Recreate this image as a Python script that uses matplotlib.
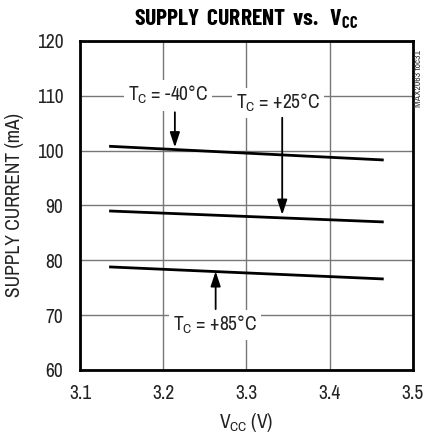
import matplotlib
matplotlib.use("Agg")
import matplotlib.pyplot as plt

VCC = [3.135, 3.465]
CURRENT_M40 = [100.8, 98.3]
CURRENT_P25 = [89.0, 87.0]
CURRENT_P85 = [78.8, 76.6]
X_TICKS = [3.1, 3.2, 3.3, 3.4, 3.5]
Y_TICKS = [60, 70, 80, 90, 100, 110, 120]

FONT = ["Archivo Narrow", "DejaVu Sans"]
plt.rcParams["font.family"] = FONT
plt.rcParams["mathtext.fontset"] = "custom"
plt.rcParams["mathtext.rm"] = "Archivo Narrow"
plt.rcParams["mathtext.bf"] = "Barlow Condensed:bold"

FS = 14

fig = plt.figure(figsize=(4.24, 4.36), dpi=100)
ax = fig.add_axes([0.1887, 0.1514, 0.785, 0.7546])

for ys in (CURRENT_M40, CURRENT_P25, CURRENT_P85):
    ax.plot(VCC, ys, color="black", linewidth=2.0, solid_capstyle="butt", zorder=3)

ax.set_xlim(3.1, 3.5)
ax.set_ylim(60, 120)
ax.set_xticks(X_TICKS)
ax.set_yticks(Y_TICKS)
ax.set_xticklabels([f"{v:.1f}" for v in X_TICKS])
ax.tick_params(length=0, labelsize=FS, pad=10, colors="#222222")
ax.tick_params(axis="y", pad=12)
ax.grid(color="#777777", linewidth=1.0, zorder=0)
for sp in ax.spines.values():
    sp.set_linewidth(2.0)

ax.set_xlabel("V$_\\mathrm{CC}$ (V)", fontsize=FS, labelpad=6, color="#222222")
ax.set_ylabel("SUPPLY CURRENT (mA)", fontsize=FS, labelpad=9, color="#222222")

box = dict(facecolor="white", edgecolor="none", pad=3)
arrow = dict(arrowstyle="-|>,head_length=0.9,head_width=0.3", color="black", lw=1.3,
             shrinkA=0, shrinkB=0)

ax.text(3.206, 110.1, "T$_\\mathrm{C}$ = -40°C", fontsize=FS, ha="center", va="center",
        bbox=box, zorder=4, color="#222222")
ax.annotate("", xy=(3.214, 100.6), xytext=(3.214, 107.0), arrowprops=arrow, zorder=4)

ax.text(3.338, 108.7, "T$_\\mathrm{C}$ = +25°C", fontsize=FS, ha="center", va="center",
        bbox=box, zorder=4, color="#222222")
ax.annotate("", xy=(3.343, 88.3), xytext=(3.343, 106.0), arrowprops=arrow, zorder=4)

ax.text(3.262, 68.2, "T$_\\mathrm{C}$ = +85°C", fontsize=FS, ha="center", va="center",
        bbox=box, zorder=4, color="#222222")
ax.annotate("", xy=(3.263, 78.0), xytext=(3.263, 71.1), arrowprops=arrow, zorder=4)

fig.text(0.58, 0.957, "$\\mathbf{SUPPLY\\ CURRENT\\ vs.\\ V_{CC}}$", fontsize=17,
         ha="center", va="center")
fig.text(0.986, 0.82, "MAX2063 toc31", fontsize=7, rotation=90, ha="center", va="center",
         color="#333333")

fig.savefig("out.png", dpi=100)
